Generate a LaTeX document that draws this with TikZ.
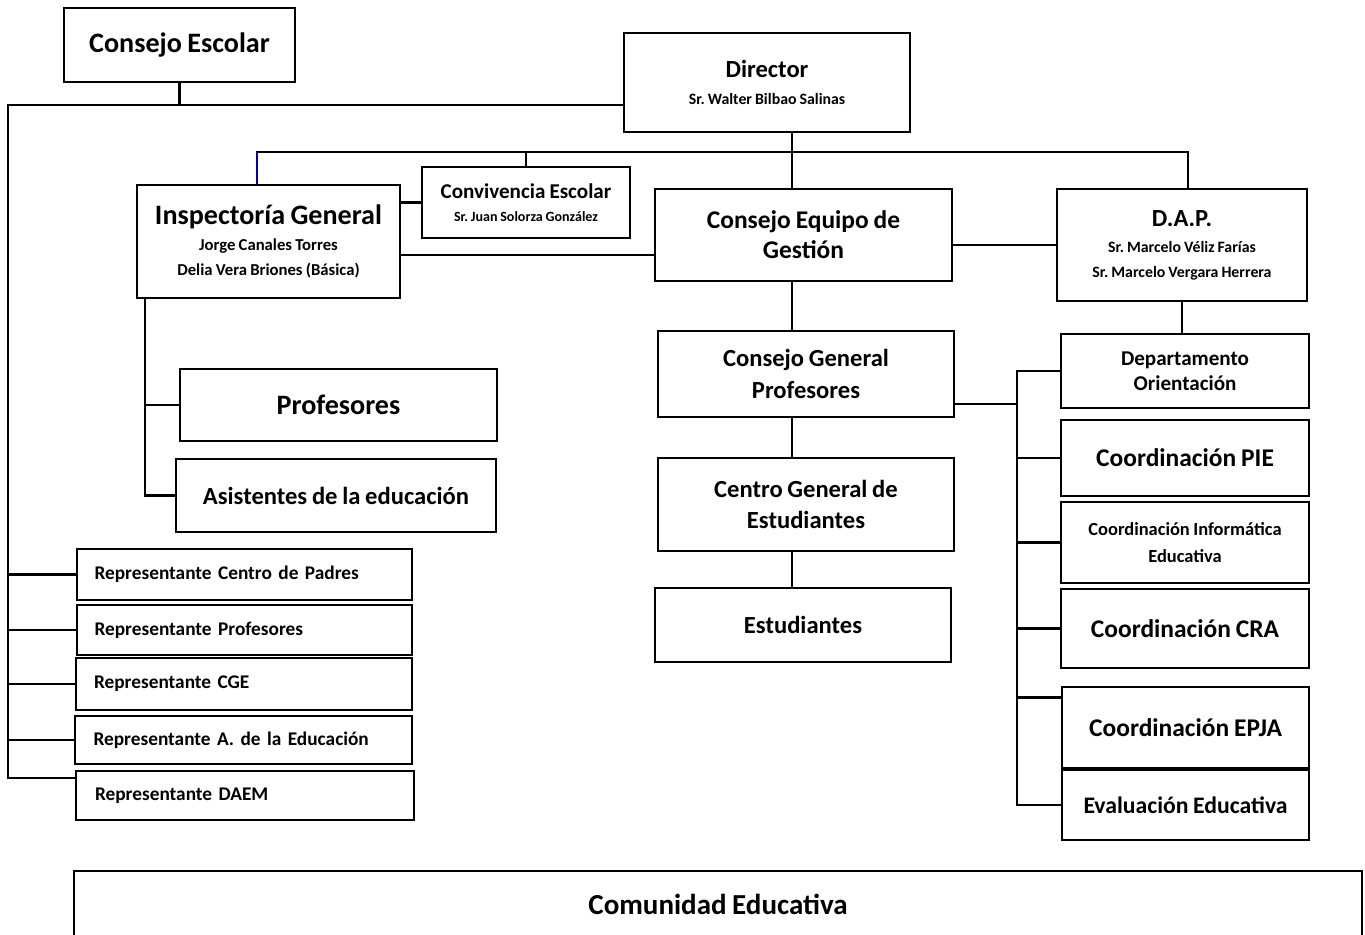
\documentclass[tikz,border=0pt]{standalone}
\usepackage{fontspec}
\setmainfont{Carlito}[WordSpace=0.85]
\frenchspacing
\usetikzlibrary{positioning}

\begin{document}
\begin{tikzpicture}[x=0.02cm, y=-0.02cm, line width=1.6pt, line cap=rect,
  box/.style = {draw, line width=1.6pt, align=center, inner sep=1pt},
  sz/.style 2 args = {minimum width=#1*0.02cm, minimum height=#2*0.02cm},
  big/.style = {font=\bfseries\fontsize{16}{19}\selectfont},
  mid/.style = {font=\bfseries\fontsize{14.5}{17}\selectfont},
  rep/.style = {font=\bfseries\fontsize{11}{13}\selectfont, text width=300*0.02cm, align=left}]
	\useasboundingbox (0,0) rectangle (1365,935);
	\node[box, font=\bfseries\fontsize{9}{11}\selectfont, sz={286}{99}] (dir) at (767,82.5)
		{{\fontsize{14}{17}\selectfont Director}\\[4pt] Sr. Walter Bilbao Salinas};
	\node[box, big, sz={231}{74}] (cesc) at (179.5,45) {Consejo Escolar};
	\node[box, font=\bfseries\fontsize{8}{10}\selectfont, sz={208}{71}] (conv) at (526,202.5)
		{{\fontsize{12}{14}\selectfont Convivencia Escolar}\\[3pt] Sr. Juan Solorza González};
	\node[box, font=\bfseries\fontsize{9.5}{14}\selectfont, sz={263}{113}] (insp) at (268.5,241.5)
		{{\fontsize{16}{19}\selectfont Inspectoría General}\\[1pt] Jorge Canales Torres\\ Delia Vera Briones (Básica)};
	\node[box, mid, sz={297}{92}] (ceg) at (803.5,235) {Consejo Equipo de\\ Gestión};
	\node[box, font=\bfseries\fontsize{9}{14}\selectfont, sz={250}{112}] (dap) at (1182,245)
		{{\fontsize{14}{17}\selectfont D.A.P.}\\[1pt] Sr. Marcelo Véliz Farías\\ Sr. Marcelo Vergara Herrera};
	\node[box, big, sz={317}{72}] (prof) at (338.5,405) {Profesores};
	\node[box, font=\bfseries\fontsize{14}{16}\selectfont, sz={320}{73}] (asis) at (336,495.5) {Asistentes de la educación};
	\node[box, rep, sz={335}{51}] (rep1) at (244.5,574.5) {Representante Centro de Padres};
	\node[box, rep, sz={335}{50}] (rep2) at (244.5,630) {Representante Profesores};
	\node[box, rep, sz={336}{52}] (rep3) at (244,684) {Representante CGE};
	\node[box, rep, sz={337}{48}] (rep4) at (243.5,740) {Representante A. de la Educación};
	\node[box, rep, sz={338}{49}] (rep5) at (245,795.5) {Representante DAEM};
	\node[box, font=\bfseries\fontsize{14}{18}\selectfont, sz={296}{86}] (cgp) at (806,374) {Consejo General\\ Profesores};
	\node[box, font=\bfseries\fontsize{14}{18}\selectfont, sz={296}{93}] (cge) at (806,504.5) {Centro General de\\ Estudiantes};
	\node[box, font=\bfseries\fontsize{14}{17}\selectfont, sz={296}{74}] (est) at (803,625) {Estudiantes};
	\node[box, font=\bfseries\fontsize{12}{14}\selectfont, sz={248}{74}] (dor) at (1185,371) {Departamento\\ Orientación};
	\node[box, mid, sz={248}{76}] (pie) at (1185,458) {Coordinación PIE};
	\node[box, font=\bfseries\fontsize{10.5}{15}\selectfont, sz={248}{81}] (info) at (1185,542.5) {Coordinación Informática\\ Educativa};
	\node[box, mid, sz={248}{79}] (cra) at (1185,628.5) {Coordinación CRA};
	\node[box, mid, sz={247}{81}] (epja) at (1185.5,727.5) {Coordinación EPJA};
	\node[box, font=\bfseries\fontsize{13.5}{15}\selectfont, sz={247}{70}] (eval) at (1185.5,805) {Evaluación Educativa};
	\node[box, font=\bfseries\fontsize{16.5}{19}\selectfont, sz={1288}{66}] (com) at (718,904) {Comunidad Educativa};
	\coordinate (ltop) at (8,105);
	\coordinate (lbot) at (8,778);
	\coordinate (busl) at (257,152);
	\coordinate (busr) at (1188,152);
	\coordinate (cx) at (792,152);
	\coordinate (ib) at (145,298);
	\coordinate (mg) at (0,255);
	\coordinate (rb) at (1017,404);
	\draw (cesc.south) -- (cesc.south |- ltop);
	\draw (ltop) -- (ltop -| dir.west);
	\draw (ltop) -- (lbot) -- (lbot -| rep5.west);
	\draw (ltop |- rep1.west) -- (rep1.west);
	\draw (ltop |- rep2.west) -- (rep2.west);
	\draw (ltop |- rep3.west) -- (rep3.west);
	\draw (ltop |- rep4.west) -- (rep4.west);
	\draw (dir.south -| cx) -- (cx) -- (ceg.north -| cx);
	\draw (busl) -- (busr) -- (busr |- dap.north);
	\draw (busl -| conv.north) -- (conv.north);
	\draw[blue!70!black, line width=1pt, line cap=butt] (busl) -- (busl |- insp.north);
	\draw (conv.west) -- (conv.west -| insp.east);
	\draw (insp.east |- mg) -- (ceg.west |- mg);
	\draw (ceg.east |- dap.west) -- (dap.west);
	\draw (insp.south -| ib) -- (ib |- asis.west) -- (asis.west);
	\draw (ib |- prof.west) -- (prof.west);
	\draw (ceg.south -| cx) -- (cgp.north -| cx);
	\draw (cgp.south -| cx) -- (cge.north -| cx);
	\draw (cge.south -| cx) -- (est.north -| cx);
	\draw (dap.south) -- (dap.south |- dor.north);
	\draw (cgp.east |- rb) -- (rb);
	\draw (dor.west -| rb) -- (eval.west -| rb);
	\draw (dor.west -| rb) -- (dor.west);
	\draw (pie.west -| rb) -- (pie.west);
	\draw (info.west -| rb) -- (info.west);
	\draw (cra.west -| rb) -- (cra.west);
	\draw ([yshift=0.6cm]epja.west -| rb) -- ([yshift=0.6cm]epja.west);
	\draw (eval.west -| rb) -- (eval.west);
\end{tikzpicture}
\end{document}
